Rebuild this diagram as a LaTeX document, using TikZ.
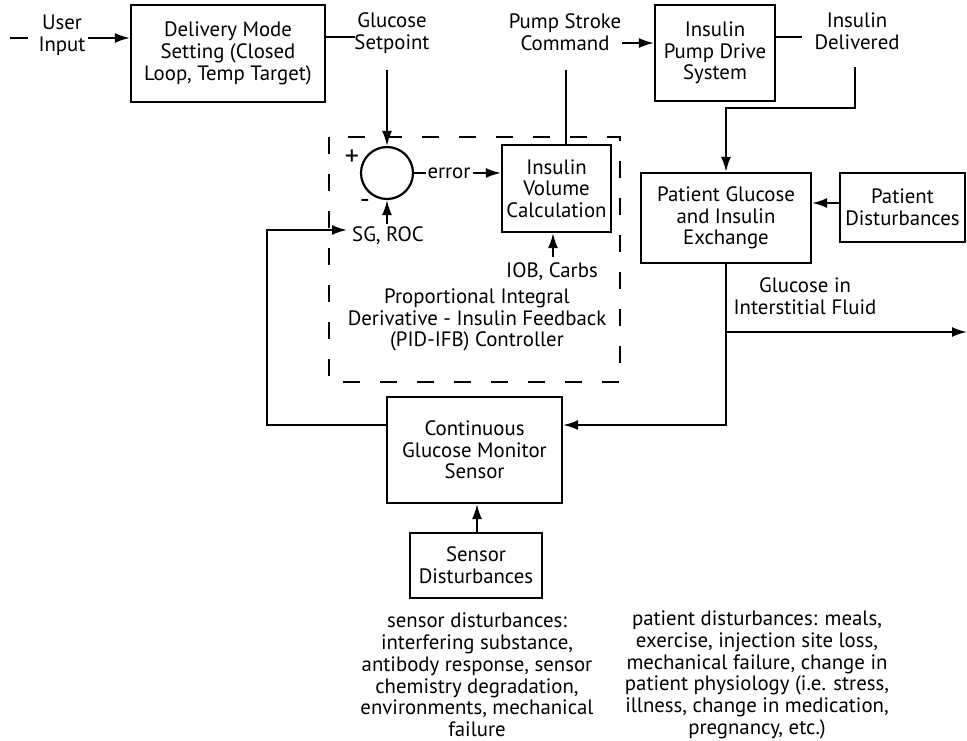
\documentclass[tikz,border=0pt]{standalone}
\usepackage{fontspec}
\setmainfont{PT Sans}
\usetikzlibrary{arrows.meta}
\begin{document}
\begin{tikzpicture}[x=1pt,y=-1pt,
  every node/.style={font=\fontsize{20.8}{21.7}\selectfont, align=center, inner sep=0pt},
  blk/.style={draw, line width=2.2pt},
  ln/.style={line width=2pt},
  arr/.style={line width=2pt, -{Latex[length=15pt,width=10pt]}},
  sgn/.style={font=\fontsize{28}{28}\selectfont}]
\useasboundingbox (0,0) rectangle (967,741);
% boxes
\node[blk, minimum width=194pt, minimum height=97pt] (dms) at (228,53.5) {Delivery Mode\\Setting (Closed\\Loop, Temp Target)};
\node[blk, minimum width=120pt, minimum height=96pt] (ipd) at (715,53) {Insulin\\Pump Drive\\System};
\node[blk, minimum width=109pt, minimum height=87pt] (ivc) at (556.5,188.5) {Insulin\\Volume\\Calculation};
\node[blk, minimum width=170pt, minimum height=90pt] (pgie) at (726,218) {Patient Glucose\\and Insulin\\Exchange};
\node[blk, minimum width=125pt, minimum height=69pt] (pd) at (902.5,207.5) {Patient\\Disturbances};
\node[blk, minimum width=175pt, minimum height=106pt] (cgm) at (474.5,450) {Continuous\\Glucose Monitor\\Sensor};
\node[blk, minimum width=132pt, minimum height=65pt] (sd) at (476,565.5) {Sensor\\Disturbances};
\node[draw, circle, line width=2.2pt, minimum size=52pt] (sum) at (387,173) {};
% dashed controller
\draw[line width=2pt, dash pattern=on 17pt off 20pt] (329,137) rectangle (620,382);
% labels
\node (user) at (62,35) {User\\Input};
\node (gsp) at (392,33) {Glucose\\Setpoint};
\node (psc) at (565,32) {Pump Stroke\\Command};
\node (idel) at (857,31) {Insulin\\Delivered};
\node (err) at (449,173) {error};
\node (sgroc) at (388,236) {SG, ROC};
\node (iob) at (552,272) {IOB, Carbs};
\node (pid) at (477,320) {Proportional Integral\\Derivative - Insulin Feedback\\(PID-IFB) Controller};
\node (gif) at (805,296) {Glucose in\\Interstitial Fluid};
\node[sgn] (plus) at (352,158) {+};
\node[sgn] (minus) at (365,204) {-};
\node (sdtext) at (477,675) {sensor disturbances:\\interfering substance,\\antibody response, sensor\\chemistry degradation,\\environments, mechanical\\failure};
\node (pdtext) at (757,675) {patient disturbances: meals,\\exercise, injection site loss,\\mechanical failure, change in\\patient physiology (i.e. stress,\\illness, change in medication,\\pregnancy, etc.)};
% coordinates
\coordinate (inL) at (10,38);
\coordinate (inR) at (28,38);
\coordinate (uA) at (88,38);
\coordinate (gspL) at (355,37);
\coordinate (gspB) at (387,70);
\coordinate (errL) at (426,173);
\coordinate (errR) at (473,173);
\coordinate (sgT) at (387,224);
\coordinate (pscB) at (566,70);
\coordinate (pscR) at (622,43);
\coordinate (idL) at (802,37);
\coordinate (idB) at (855,67);
\coordinate (j1) at (726,108);
\coordinate (j2) at (726,332);
\coordinate (outR) at (967,332);
\coordinate (j3) at (726,425);
\coordinate (fb1) at (267,425);
\coordinate (fb2) at (267,230);
\coordinate (sgL) at (347,230);
\coordinate (iobT) at (553,257);
% connectors
\draw[ln] (inL) -- (inR);
\draw[arr] (uA) -- (uA -| dms.west);
\draw[ln] (dms.east |- gspL) -- (gspL);
\draw[arr] (gspB) -- (sum.north);
\draw[ln] (sum.east) -- (errL);
\draw[arr] (errR) -- (ivc.west |- errR);
\draw[arr] (sgT) -- (sum.south);
\draw[ln] (ivc.north -| pscB) -- (pscB);
\draw[arr] (pscR) -- (pscR -| ipd.west);
\draw[ln] (ipd.east |- idL) -- (idL);
\draw[arr] (idB) -- (idB |- j1) -- (j1) -- (pgie.north);
\draw[arr] (pd.west |- 0,203) -- (pgie.east |- 0,203);
\draw[arr] (pgie.south) -- (j3) -- (cgm.east |- j3);
\draw[arr] (j2) -- (outR);
\draw[arr] (cgm.west |- fb1) -- (fb1) -- (fb2) -- (sgL);
\draw[arr] (sd.north -| 477,0) -- (cgm.south -| 477,0);
\draw[arr] (iobT) -- (ivc.south -| iobT);
\end{tikzpicture}
\end{document}
